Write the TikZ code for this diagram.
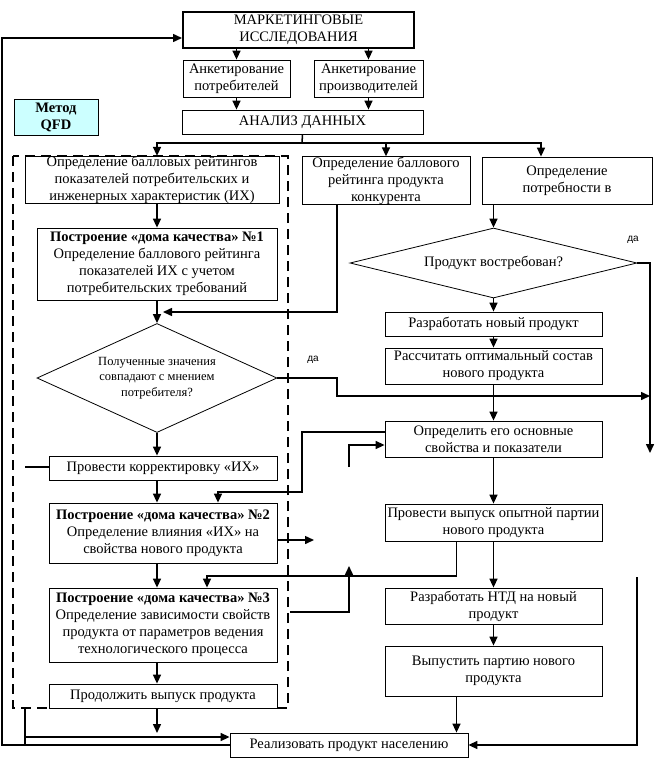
\documentclass[tikz,border=0pt]{standalone}
\usepackage{fontspec}
\setmainfont{Liberation Serif}
\newfontfamily\yesfont{Liberation Sans}
\usetikzlibrary{arrows.meta,shapes.geometric}
\definecolor{qfdcyan}{RGB}{204,255,255}
\tikzset{
  box/.style={draw, line width=0.8pt, fill=white, inner sep=0pt, align=center,
    font=\fontsize{14.5}{17}\selectfont},
  ask/.style={diamond, draw, line width=0.8pt, fill=white, inner sep=0pt, align=center,
    font=\fontsize{14.5}{17}\selectfont},
  conn/.style={line width=1.5pt},
  arr/.style={conn, -{Triangle[length=9pt,width=8pt]}},
  yes/.style={font=\yesfont\fontsize{10}{12}\selectfont},
  qfdframe/.style={line width=1.5pt, dash pattern=on 10pt off 6pt},
}
\begin{document}
\begin{tikzpicture}[x=1pt,y=-1pt]
\useasboundingbox (0,0) rectangle (664,780);

% QFD frame
\draw[qfdframe] (13,156) rectangle (288,708);

\node[box, line width=2pt, minimum width=231pt, minimum height=36pt] (market) at (298.5,30) {МАРКЕТИНГОВЫЕ\\ИССЛЕДОВАНИЯ};
\node[box, minimum width=107pt, minimum height=37pt] (askcons) at (236.5,78.5) {Анкетирование\\потребителей};
\node[box, minimum width=109pt, minimum height=37pt] (askprod) at (368.5,78.5) {Анкетирование\\производителей};
\node[box, minimum width=241pt, minimum height=24pt] (analysis) at (302.5,122) {АНАЛИЗ ДАННЫХ};
\node[box, fill=qfdcyan, minimum width=84pt, minimum height=36pt,
  font=\bfseries\fontsize{14.5}{17}\selectfont] (qfd) at (56,117) {Метод\\QFD};

\node[box, minimum width=254pt, minimum height=47pt] (ratecons) at (152,180) {Определение балловых рейтингов\\показателей потребительских и\\инженерных характеристик (ИХ)};
\node[box, minimum width=168pt, minimum height=47pt] (ratecomp) at (386,180.5) {Определение баллового\\рейтинга продукта\\конкурента};
\node[box, minimum width=170pt, minimum height=47pt] (need) at (567,180.5) {Определение\\потребности в};
\node[box, minimum width=240pt, minimum height=72pt] (house1) at (157,264) {\textbf{Построение «дома качества» №1}\\Определение баллового рейтинга\\показателей ИХ с учетом\\потребительских требований};
\node[ask, aspect=4.1, minimum width=287pt, minimum height=70pt] (demand) at (493.5,263) {Продукт востребован?};
\node[ask, aspect=2.2, minimum width=240pt, minimum height=109pt,
  font=\fontsize{12.5}{15.5}\selectfont] (match) at (157,378) {Полученные значения\\совпадают с мнением\\потребителя?};

\node[box, minimum width=217pt, minimum height=24pt] (develop) at (493.5,324) {Разработать новый продукт};
\node[box, minimum width=217pt, minimum height=36pt] (optim) at (493.5,366) {Рассчитать оптимальный состав\\нового продукта};
\node[box, minimum width=217pt, minimum height=36pt] (props) at (493.5,439) {Определить его основные\\свойства и показатели};
\node[box, minimum width=228pt, minimum height=24pt] (correct) at (163,468) {Провести корректировку «ИХ»};
\node[box, minimum width=228pt, minimum height=60pt] (house2) at (163,533) {\textbf{Построение «дома качества» №2}\\Определение влияния «ИХ» на\\свойства нового продукта};
\node[box, minimum width=217pt, minimum height=37pt] (pilot) at (493.5,522.5) {Провести выпуск опытной партии\\нового продукта};
\node[box, minimum width=228pt, minimum height=74pt] (house3) at (163,625) {\textbf{Построение «дома качества» №3}\\Определение зависимости свойств\\продукта от параметров ведения\\технологического процесса};
\node[box, minimum width=217pt, minimum height=36pt] (ntd) at (493.5,606) {Разработать НТД на новый\\продукт};
\node[box, minimum width=217pt, minimum height=50pt] (batch) at (493.5,671) {Выпустить партию нового\\продукта};
\node[box, minimum width=228pt, minimum height=24pt] (resume) at (163,696) {Продолжить выпуск продукта};
\node[box, minimum width=238pt, minimum height=24pt] (sell) at (349,745) {Реализовать продукт населению};

\node[yes] (yes1) at (633,240) {да};
\node[yes] (yes2) at (313,360) {да};

\coordinate (split) at (302,143);
\coordinate (back) at (163,312);
\coordinate (yesturn) at (337,396);
\coordinate (yesend) at (650,396);
\coordinate (rightdown) at (650,453);
\coordinate (stubA) at (25,467);
\coordinate (propsturn) at (302,492);
\coordinate (stubB) at (349,467);
\coordinate (house2out) at (314,540);
\coordinate (pilotturn) at (207,576);
\coordinate (stubC) at (290,612);
\coordinate (upend) at (349,566);
\coordinate (resumeend) at (157,733);
\coordinate (rightline) at (637,577);
\coordinate (leftline) at (25,708);
\coordinate (outer) at (2,38);
\coordinate (pilotout) at ([xshift=-37pt]pilot.south);
\coordinate (batchout) at ([xshift=-37pt]batch.south);
\coordinate (selltop) at ([yshift=8pt]sell.west);

% top part
\draw[arr] (market.south -| askcons) -- (askcons.north);
\draw[arr] (market.south -| askprod) -- (askprod.north);
\draw[arr] (askcons.south) -- (analysis.north -| askcons);
\draw[arr] (askprod.south) -- (analysis.north -| askprod);
\draw[conn] (analysis.south) -- (split);
\draw[arr] (split) -| ([xshift=5pt]ratecons.north);
\draw[arr] (split) -| (ratecomp.north);
\draw[arr] (split) -| ([xshift=-26pt]need.north);

% left column
\draw[arr] ([xshift=5pt]ratecons.south) -- (house1.north);
\draw[arr] ([xshift=-49pt]ratecomp.south) |- (back);
\draw[arr] (house1.south) -- (match.north);
\draw[arr] (match.south) -- (correct.north -| match);
\draw[conn] (stubA) -- (correct.west |- stubA);
\draw[arr] (correct.south -| match) -- (house2.north -| match);
\draw[arr] ([yshift=-7pt]house2.east) -- (house2out);
\draw[arr] (house2.south -| match) -- (house3.north -| match);
\draw[arr] (house3.south -| match) -- (resume.north -| match);
\draw[arr] (resume.south -| match) -- (resumeend);

% right column
\draw[arr] (need.south -| demand) -- (demand.north);
\draw[arr] (demand.east) -| (rightdown);
\draw[arr] (demand.south) -- (develop.north);
\draw[arr] (develop.south) -- (optim.north);
\draw[arr] (optim.south) -- (props.north);
\draw[arr] (match.east) -| (yesturn) -- (yesend);
\draw[arr] ([yshift=7pt]props.west) -| (propsturn) -| ([xshift=55pt]house2.north);
\draw[arr] (stubB) |- ([yshift=-6pt]props.west);
\draw[arr] (props.south) -- (pilot.north);
\draw[arr] (pilotout) |- (pilotturn) -- (house3.north -| pilotturn);
\draw[arr] (stubC) -| (upend);
\draw[arr] (pilot.south) -- (ntd.north);
\draw[arr] (ntd.south) -- (batch.north);
\draw[arr] (batchout) -- (batchout |- sell.north);

% bottom
\draw[arr] (rightline) |- (sell.east);
\draw[conn] (leftline) -- (leftline |- sell.west);
\draw[arr] (leftline |- selltop) -- (selltop);
\draw[arr] (sell.west) -| (outer) -- ([yshift=-8pt]market.west);
\end{tikzpicture}
\end{document}
